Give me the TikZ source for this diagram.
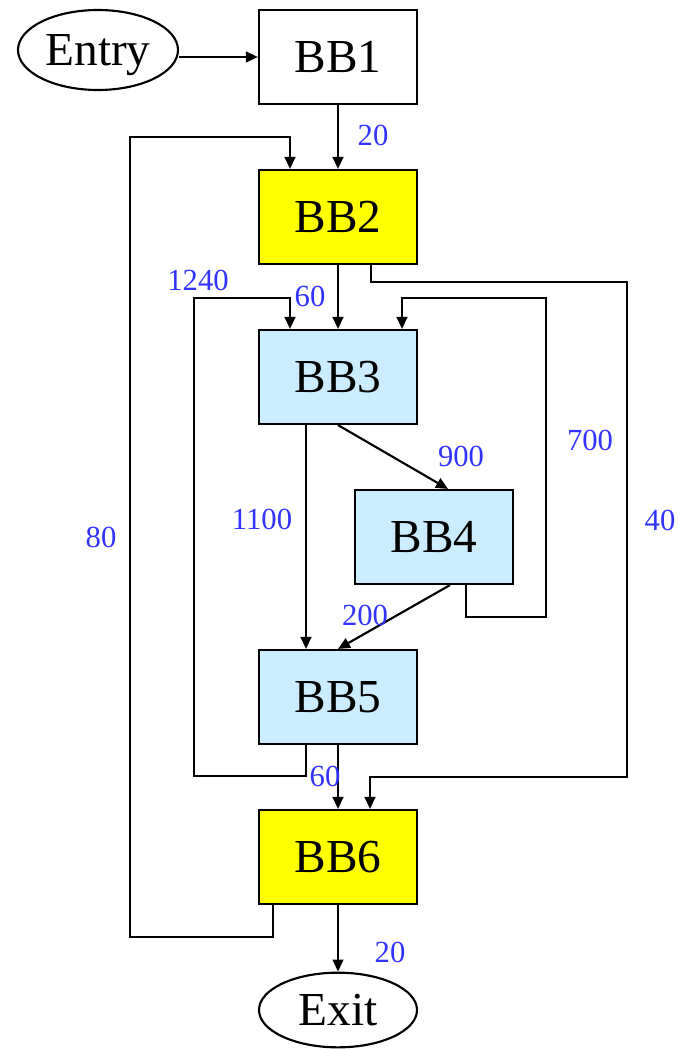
\documentclass[tikz,border=0pt]{standalone}
\usepackage{fontspec}
\setmainfont{Liberation Serif}
\usetikzlibrary{arrows.meta,calc,shapes.geometric}
\definecolor{bbblue}{RGB}{204,236,255}
\definecolor{bbyellow}{RGB}{255,255,0}
\definecolor{lblblue}{RGB}{51,51,255}
\begin{document}
\begin{tikzpicture}[x=0.75pt,y=-0.75pt,
  bbox/.style={draw=black,line width=1.6pt,minimum width=118.5pt,minimum height=70.5pt,inner sep=0pt,font=\fontsize{35.5}{40}\selectfont},
  term/.style={draw=black,line width=1.6pt,ellipse,inner sep=0pt,text depth=0pt,font=\fontsize{35.5}{40}\selectfont},
  lbl/.style={text=lblblue,inner sep=0pt,font=\fontsize{23}{26}\selectfont},
  edge/.style={line width=1.6pt,-{Triangle[length=9pt,width=8pt]}},
  plain/.style={line width=1.6pt}]
\useasboundingbox (0,0) rectangle (678,1049);
% nodes
\node[term,minimum width=120pt,minimum height=60pt] (entry) at (98,50) {Entry};
\node[bbox] (bb1) at (338,57) {BB1};
\node[bbox,fill=bbyellow] (bb2) at (338,217) {BB2};
\node[bbox,fill=bbblue] (bb3) at (338,377) {BB3};
\node[bbox,fill=bbblue] (bb4) at (434,537) {BB4};
\node[bbox,fill=bbblue] (bb5) at (338,697) {BB5};
\node[bbox,fill=bbyellow] (bb6) at (338,857) {BB6};
\node[term,minimum width=118.5pt,minimum height=56pt] (exit) at (338,1010) {Exit};
% bend coordinates
\coordinate (k80a) at (130,937);
\coordinate (k80b) at (130,137);
\coordinate (k40a) at (627,282);
\coordinate (k40b) at (627,777);
\coordinate (k1240a) at (194,776);
\coordinate (k1240b) at (194,298);
\coordinate (k700a) at (546,617);
\coordinate (k700b) at (546,298);
% edges
\draw[edge] (entry.east |- bb1.west) -- (bb1.west);
\draw[edge] (bb1) -- (bb2);
\draw[edge] ($(bb6.south)+(-65,0)$) |- (k80a) -- (k80b) -| ($(bb2.north)+(-48,0)$);
\draw[edge] (bb2) -- (bb3);
\draw[edge] ($(bb2.south)+(33,0)$) |- (k40a) -- (k40b) -| ($(bb6.north)+(32,0)$);
\draw[edge] ($(bb5.south)+(-32,0)$) |- (k1240a) -- (k1240b) -| ($(bb3.north)+(-48,0)$);
\draw[edge] ($(bb4.south)+(32,0)$) |- (k700a) -- (k700b) -| ($(bb3.north)+(64,0)$);
\draw[edge] (bb3.south) -- ($(bb4.north)+(14,0)$);
\draw[edge] ($(bb3.south)+(-32,0)$) -- ($(bb5.north)+(-32,0)$);
\draw[edge] ($(bb4.south)+(16,0)$) -- (bb5.north);
\draw[edge] (bb5) -- (bb6);
\draw[edge] (bb6) -- (exit);
% labels
\node[lbl] (l20a) at (373,135) {20};
\node[lbl] (l1240) at (198,280) {1240};
\node[lbl] (l60a) at (310,296) {60};
\node[lbl] (l900) at (461,456) {900};
\node[lbl] (l700) at (590,440) {700};
\node[lbl] (l80) at (101,537) {80};
\node[lbl] (l1100) at (262,519) {1100};
\node[lbl] (l40) at (660,520) {40};
\node[lbl] (l200) at (365,615) {200};
\node[lbl] (l60b) at (325,776) {60};
\node[lbl] (l20b) at (390,952) {20};
\end{tikzpicture}
\end{document}
